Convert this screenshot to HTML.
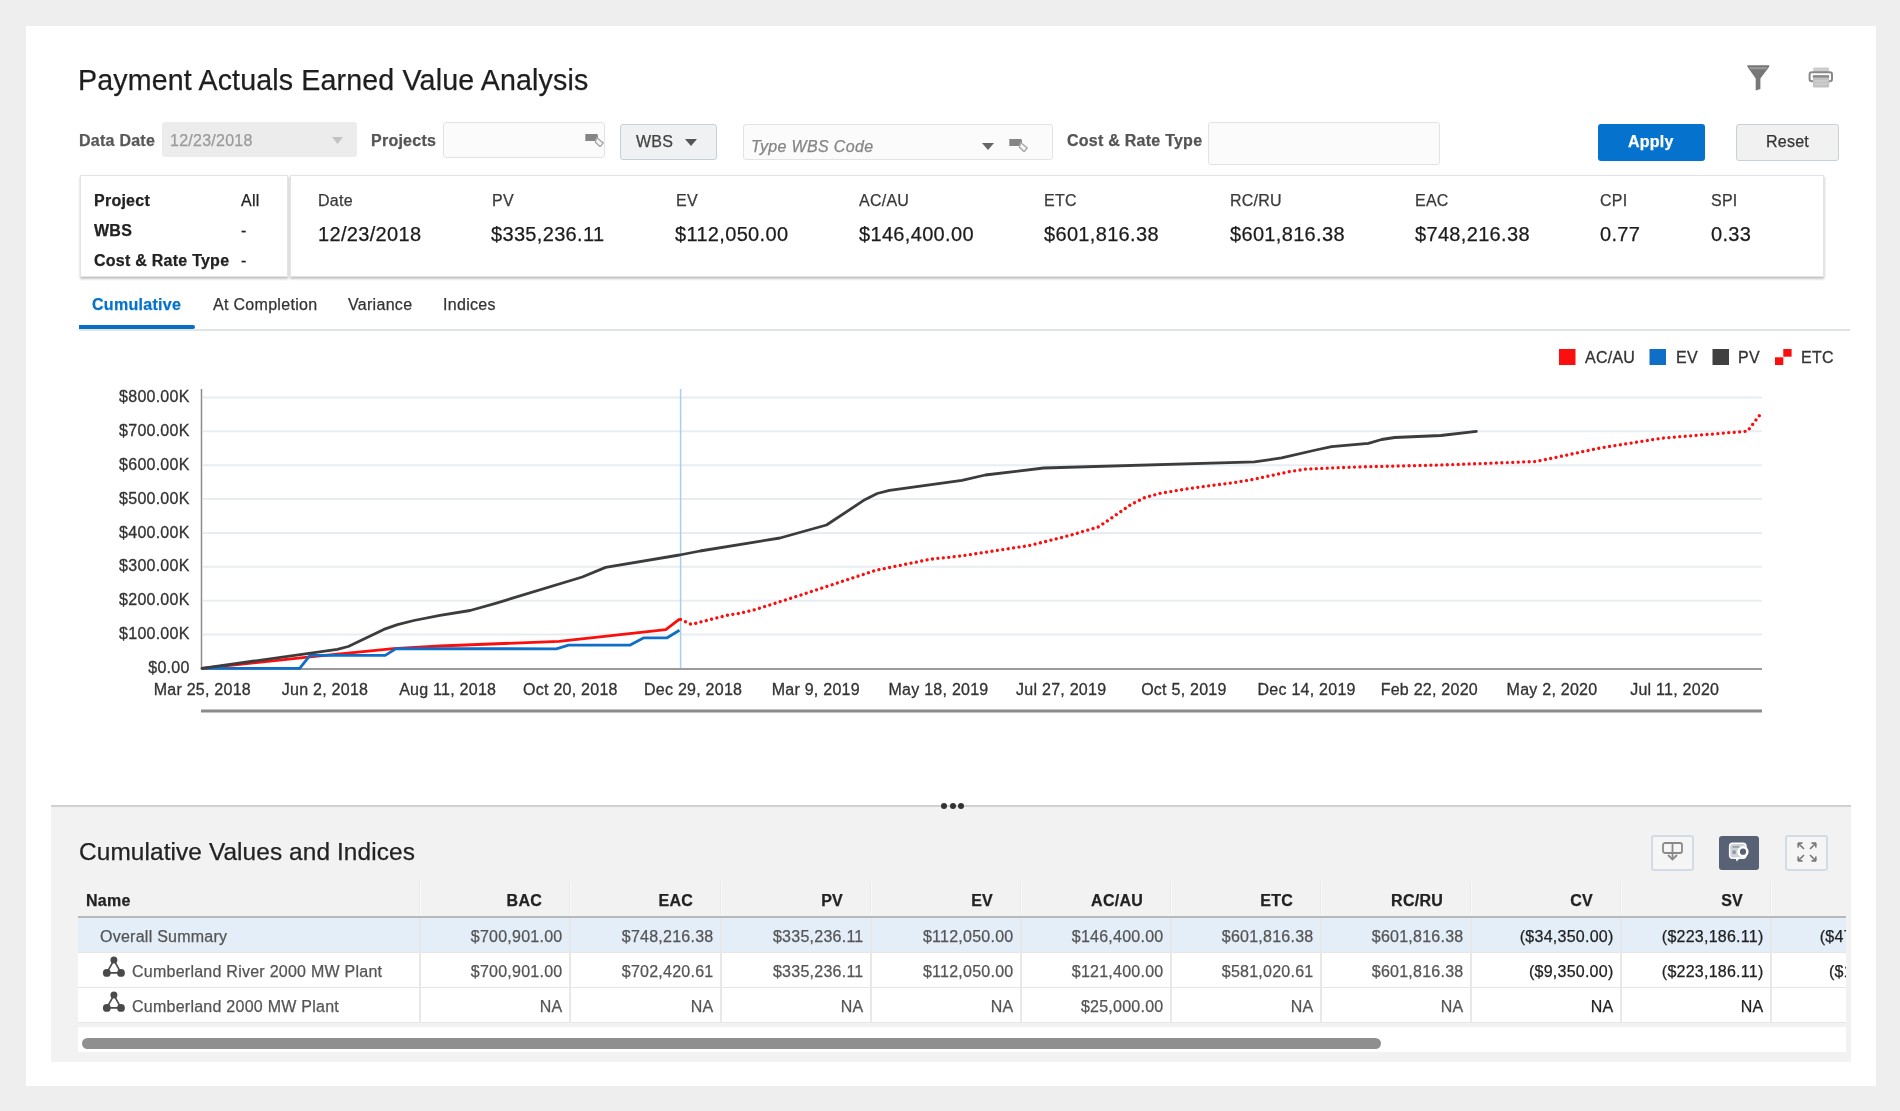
<!DOCTYPE html>
<html><head><meta charset="utf-8"><title>Payment Actuals Earned Value Analysis</title>
<style>
*{box-sizing:border-box;margin:0;padding:0}
html,body{width:1900px;height:1111px;overflow:hidden;background:#eeeeee;font-family:"Liberation Sans",Arial,Helvetica,sans-serif;color:#222}
#wrap div,#wrap text{-webkit-text-stroke:0.25px currentColor}
.a{position:absolute;white-space:nowrap}
.t16{font-size:16px;line-height:16px;letter-spacing:0.25px}
.b{font-weight:bold}
#card{position:absolute;left:26px;top:26px;width:1850px;height:1060px;background:#fff}
.inp{position:absolute;border:1px solid #e3e3e3;border-radius:3px;background:#fbfbfb}
.btn{position:absolute;border-radius:3px}
.sbox{position:absolute;background:#fff;border:1px solid #e4e4e4;box-shadow:0 2px 2px rgba(0,0,0,0.2),1px 1px 3px rgba(0,0,0,0.08)}
.lbl{color:#3a3a3a}
.val{font-size:20px;line-height:20px;color:#1c1c1c;letter-spacing:0.33px}
.tab{font-size:16px;line-height:16px;color:#333;letter-spacing:0.3px}
.th{font-weight:bold;font-size:16px;line-height:16px;color:#222;letter-spacing:0.25px}
.td{font-size:16px;line-height:16px;color:#555;letter-spacing:0.25px}
</style></head><body>
<div id="wrap" style="position:absolute;left:0;top:0;width:1900px;height:1111px;filter:opacity(1)">
<div id="card"></div>

<!-- title -->
<div class="a" style="left:78px;top:66px;font-size:28.6px;line-height:28px;color:#1e1e1e;letter-spacing:0.15px">Payment Actuals Earned Value Analysis</div>

<!-- filter & print icons -->
<svg class="a" style="left:1745px;top:63px" width="28" height="30" viewBox="0 0 28 30">
  <path d="M2.4 2.3 H24.2 V3.8 L15.4 15.5 V26 L10.7 27.6 V15.5 L2.4 3.8 Z" fill="#777"/>
  <path d="M4 4.3 H22.6 L21 6.2 H5.4 Z" fill="#9c9c9c"/>
</svg>
<svg class="a" style="left:1806px;top:64px" width="30" height="26" viewBox="0 0 30 26">
  <rect x="7.2" y="3.4" width="15.8" height="4.5" rx="1.2" fill="#cdcdcd"/>
  <rect x="3.6" y="8.2" width="22.4" height="9" rx="2.2" fill="#fff" stroke="#888" stroke-width="2"/>
  <rect x="6.9" y="11.2" width="16.2" height="12.4" rx="1.4" fill="#c2c2c2"/>
  <rect x="6.9" y="11.2" width="16.2" height="2.4" fill="#8a8a8a"/>
  <rect x="8.5" y="16.5" width="13" height="1" fill="#d8d8d8"/>
  <rect x="8.5" y="19.5" width="13" height="1" fill="#d8d8d8"/>
</svg>
<!-- filter bar -->
<div class="a t16 b" style="left:79px;top:133px;color:#585858">Data Date</div>
<div class="inp" style="left:162px;top:122px;width:195px;height:35px;background:#ececec;border-color:#ececec"></div>
<div class="a t16" style="left:170px;top:133px;color:#9a9a9a">12/23/2018</div>
<svg class="a" style="left:332px;top:137px" width="12" height="8"><path d="M0 0 H11 L5.5 7 Z" fill="#c2c2c2"/></svg>

<div class="a t16 b" style="left:371px;top:133px;color:#555">Projects</div>
<div class="inp" style="left:443px;top:122px;width:162px;height:36px"></div>
<svg class="a" style="left:584px;top:131px" width="20" height="16" viewBox="0 0 20 16"><path d="M1.3 3 H13 L14 4.3 V10 H1.3 Z" fill="#858585"/><path d="M12.6 6.6 L19.2 12 L16.2 15.8 L11.4 11.2 Z" fill="#f4f4f4" stroke="#a4a4a4" stroke-width="1.3"/></svg>

<div class="btn" style="left:620px;top:124px;width:97px;height:36px;background:#f0f1f2;border:1px solid #c6d0da"></div>
<div class="a t16" style="left:636px;top:134px;color:#444">WBS</div>
<svg class="a" style="left:685px;top:139px" width="12" height="8"><path d="M0 0 H12 L6 7 Z" fill="#555"/></svg>

<div class="inp" style="left:743px;top:124px;width:310px;height:36px"></div>
<div class="a t16" style="left:751px;top:139px;color:#858585;font-style:italic;letter-spacing:0.35px">Type WBS Code</div>
<svg class="a" style="left:982px;top:143px" width="12" height="8"><path d="M0 0 H12 L6 7 Z" fill="#666"/></svg>
<svg class="a" style="left:1008px;top:136px" width="20" height="16" viewBox="0 0 20 16"><path d="M1.3 3 H13 L14 4.3 V10 H1.3 Z" fill="#858585"/><path d="M12.6 6.6 L19.2 12 L16.2 15.8 L11.4 11.2 Z" fill="#f4f4f4" stroke="#a4a4a4" stroke-width="1.3"/></svg>

<div class="a t16 b" style="left:1067px;top:133px;color:#555">Cost &amp; Rate Type</div>
<div class="inp" style="left:1208px;top:122px;width:232px;height:43px"></div>

<div class="btn" style="left:1598px;top:124px;width:107px;height:37px;background:#0572ce"></div>
<div class="a t16 b" style="left:1628px;top:134px;color:#fff">Apply</div>
<div class="btn" style="left:1736px;top:124px;width:103px;height:37px;background:#f1f1f1;border:1px solid #c8d0d8"></div>
<div class="a t16" style="left:1766px;top:134px;color:#333">Reset</div>

<!-- summary boxes -->
<div class="sbox" style="left:80px;top:175px;width:208px;height:102px"></div>
<div class="sbox" style="left:290px;top:175px;width:1534px;height:102px"></div>
<div class="a t16 b" style="left:94px;top:193px;color:#222">Project</div>
<div class="a t16 b" style="left:94px;top:223px;color:#222">WBS</div>
<div class="a t16 b" style="left:94px;top:253px;color:#222">Cost &amp; Rate Type</div>
<div class="a t16" style="left:241px;top:193px;color:#222">All</div>
<div class="a t16" style="left:241px;top:223px;color:#222">-</div>
<div class="a t16" style="left:241px;top:253px;color:#222">-</div>

<div class="a t16 lbl" style="left:318px;top:193px">Date</div>
<div class="a val" style="left:318px;top:224px">12/23/2018</div>
<div class="a t16 lbl" style="left:492px;top:193px">PV</div>
<div class="a val" style="left:491px;top:224px">$335,236.11</div>
<div class="a t16 lbl" style="left:676px;top:193px">EV</div>
<div class="a val" style="left:675px;top:224px">$112,050.00</div>
<div class="a t16 lbl" style="left:859px;top:193px">AC/AU</div>
<div class="a val" style="left:859px;top:224px">$146,400.00</div>
<div class="a t16 lbl" style="left:1044px;top:193px">ETC</div>
<div class="a val" style="left:1044px;top:224px">$601,816.38</div>
<div class="a t16 lbl" style="left:1230px;top:193px">RC/RU</div>
<div class="a val" style="left:1230px;top:224px">$601,816.38</div>
<div class="a t16 lbl" style="left:1415px;top:193px">EAC</div>
<div class="a val" style="left:1415px;top:224px">$748,216.38</div>
<div class="a t16 lbl" style="left:1600px;top:193px">CPI</div>
<div class="a val" style="left:1600px;top:224px">0.77</div>
<div class="a t16 lbl" style="left:1711px;top:193px">SPI</div>
<div class="a val" style="left:1711px;top:224px">0.33</div>

<!-- tabs -->
<div class="a" style="left:79px;top:328.5px;width:1771px;height:2px;background:#e0e5e9"></div>
<div class="a" style="left:79px;top:324.5px;width:116px;height:4px;background:#0570c6;border-radius:0 2px 2px 0"></div>
<div class="a tab b" style="left:92px;top:297px;color:#0572ce">Cumulative</div>
<div class="a tab" style="left:213px;top:297px">At Completion</div>
<div class="a tab" style="left:348px;top:297px">Variance</div>
<div class="a tab" style="left:443px;top:297px">Indices</div>

<!-- CHART -->
<svg class="a" style="left:0;top:0" width="1900" height="760" viewBox="0 0 1900 760">
<line x1="203" y1="397.4" x2="1762" y2="397.4" stroke="#e8edf2" stroke-width="2"/>
<line x1="203" y1="431.3" x2="1762" y2="431.3" stroke="#e8edf2" stroke-width="2"/>
<line x1="203" y1="465.2" x2="1762" y2="465.2" stroke="#e8edf2" stroke-width="2"/>
<line x1="203" y1="499.0" x2="1762" y2="499.0" stroke="#e8edf2" stroke-width="2"/>
<line x1="203" y1="532.9" x2="1762" y2="532.9" stroke="#e8edf2" stroke-width="2"/>
<line x1="203" y1="566.8" x2="1762" y2="566.8" stroke="#e8edf2" stroke-width="2"/>
<line x1="203" y1="600.7" x2="1762" y2="600.7" stroke="#e8edf2" stroke-width="2"/>
<line x1="203" y1="634.5" x2="1762" y2="634.5" stroke="#e8edf2" stroke-width="2"/>
<text x="189.6" y="402.0" text-anchor="end" font-size="16" fill="#333" stroke="#333" stroke-width="0.3" letter-spacing="0.25">$800.00K</text>
<text x="189.6" y="435.9" text-anchor="end" font-size="16" fill="#333" stroke="#333" stroke-width="0.3" letter-spacing="0.25">$700.00K</text>
<text x="189.6" y="469.8" text-anchor="end" font-size="16" fill="#333" stroke="#333" stroke-width="0.3" letter-spacing="0.25">$600.00K</text>
<text x="189.6" y="503.6" text-anchor="end" font-size="16" fill="#333" stroke="#333" stroke-width="0.3" letter-spacing="0.25">$500.00K</text>
<text x="189.6" y="537.5" text-anchor="end" font-size="16" fill="#333" stroke="#333" stroke-width="0.3" letter-spacing="0.25">$400.00K</text>
<text x="189.6" y="571.4" text-anchor="end" font-size="16" fill="#333" stroke="#333" stroke-width="0.3" letter-spacing="0.25">$300.00K</text>
<text x="189.6" y="605.3" text-anchor="end" font-size="16" fill="#333" stroke="#333" stroke-width="0.3" letter-spacing="0.25">$200.00K</text>
<text x="189.6" y="639.1" text-anchor="end" font-size="16" fill="#333" stroke="#333" stroke-width="0.3" letter-spacing="0.25">$100.00K</text>
<text x="189.6" y="673.0" text-anchor="end" font-size="16" fill="#333" stroke="#333" stroke-width="0.3" letter-spacing="0.25">$0.00</text>
<text x="202.3" y="694.5" text-anchor="middle" font-size="16" fill="#333" stroke="#333" stroke-width="0.3" letter-spacing="0.25">Mar 25, 2018</text>
<text x="325.0" y="694.5" text-anchor="middle" font-size="16" fill="#333" stroke="#333" stroke-width="0.3" letter-spacing="0.25">Jun 2, 2018</text>
<text x="447.7" y="694.5" text-anchor="middle" font-size="16" fill="#333" stroke="#333" stroke-width="0.3" letter-spacing="0.25">Aug 11, 2018</text>
<text x="570.4" y="694.5" text-anchor="middle" font-size="16" fill="#333" stroke="#333" stroke-width="0.3" letter-spacing="0.25">Oct 20, 2018</text>
<text x="693.1" y="694.5" text-anchor="middle" font-size="16" fill="#333" stroke="#333" stroke-width="0.3" letter-spacing="0.25">Dec 29, 2018</text>
<text x="815.8" y="694.5" text-anchor="middle" font-size="16" fill="#333" stroke="#333" stroke-width="0.3" letter-spacing="0.25">Mar 9, 2019</text>
<text x="938.5" y="694.5" text-anchor="middle" font-size="16" fill="#333" stroke="#333" stroke-width="0.3" letter-spacing="0.25">May 18, 2019</text>
<text x="1061.2" y="694.5" text-anchor="middle" font-size="16" fill="#333" stroke="#333" stroke-width="0.3" letter-spacing="0.25">Jul 27, 2019</text>
<text x="1183.9" y="694.5" text-anchor="middle" font-size="16" fill="#333" stroke="#333" stroke-width="0.3" letter-spacing="0.25">Oct 5, 2019</text>
<text x="1306.6" y="694.5" text-anchor="middle" font-size="16" fill="#333" stroke="#333" stroke-width="0.3" letter-spacing="0.25">Dec 14, 2019</text>
<text x="1429.3" y="694.5" text-anchor="middle" font-size="16" fill="#333" stroke="#333" stroke-width="0.3" letter-spacing="0.25">Feb 22, 2020</text>
<text x="1552.0" y="694.5" text-anchor="middle" font-size="16" fill="#333" stroke="#333" stroke-width="0.3" letter-spacing="0.25">May 2, 2020</text>
<text x="1674.7" y="694.5" text-anchor="middle" font-size="16" fill="#333" stroke="#333" stroke-width="0.3" letter-spacing="0.25">Jul 11, 2020</text>
<line x1="201.5" y1="389" x2="201.5" y2="669.5" stroke="#8c8c8c" stroke-width="1.5"/>
<line x1="201" y1="669" x2="1762" y2="669" stroke="#9a9a9a" stroke-width="2"/>
<line x1="680.6" y1="389" x2="680.6" y2="668" stroke="#a6d0ea" stroke-width="1.5"/>
<polyline points="202.0,668.4 310.0,656.8 393.4,648.6 440.0,646.0 559.0,641.3 665.8,629.6 679.5,619.1" fill="none" stroke="#fb0e0e" stroke-width="2.8" stroke-linejoin="round"/>
<polyline points="202.0,668.4 299.7,668.4 310.0,655.4 385.2,655.4 396.1,648.6 556.3,648.8 568.6,645.1 630.2,645.1 643.9,637.8 667.2,637.8 679.5,630.3" fill="none" stroke="#0f6fc6" stroke-width="2.8" stroke-linejoin="round"/>
<polyline points="202.0,668.4 337.3,649.3 348.3,646.5 383.8,629.4 397.5,624.6 413.9,620.5 440.0,615.3 470.1,610.5 494.7,603.6 582.3,577.0 605.6,567.4 679.5,555.0 700.0,551.0 780.0,538.0 826.5,525.0 864.8,499.7 877.2,493.5 889.5,490.4 962.0,480.3 985.3,475.0 1043.7,468.0 1254.4,461.9 1281.6,457.9 1315.8,450.0 1331.6,446.7 1368.4,443.4 1381.6,439.5 1394.7,437.5 1440.8,435.5 1476.3,431.3" fill="none" stroke="#3c3c3c" stroke-width="2.8" stroke-linejoin="round" stroke-linecap="round"/>
<polyline points="680.5,619.5 691.4,624.4 707.2,620.3 728.3,615.0 739.1,613.4 755.2,609.6 776.0,603.0 796.9,596.3 876.2,570.2 930.5,559.2 961.0,556.0 1030.0,545.4 1071.0,535.1 1098.4,526.9 1106.6,521.4 1131.3,504.3 1145.0,497.5 1160.0,493.4 1188.7,488.6 1235.3,482.4 1251.7,479.7 1290.0,471.5 1306.8,469.0 1355.8,467.0 1440.0,465.0 1535.3,461.5 1551.6,458.3 1600.5,447.9 1662.5,438.1 1747.4,431.2 1760.4,414.3" fill="none" stroke="#fb0e0e" stroke-width="3.3" stroke-dasharray="0.01 5.45" stroke-linecap="round"/>
<line x1="201" y1="711" x2="1762" y2="711" stroke="#8a8a8a" stroke-width="3"/>
<rect x="1559" y="349" width="16.5" height="16" fill="#fb0e0e"/>
<text x="1585" y="363" font-size="16" fill="#333" stroke="#333" stroke-width="0.3" letter-spacing="0.25">AC/AU</text>
<rect x="1649.5" y="349" width="16.5" height="16" fill="#0f6fc6"/>
<text x="1676" y="363" font-size="16" fill="#333" stroke="#333" stroke-width="0.3" letter-spacing="0.25">EV</text>
<rect x="1712.5" y="349" width="16.5" height="16" fill="#404040"/>
<text x="1738" y="363" font-size="16" fill="#333" stroke="#333" stroke-width="0.3" letter-spacing="0.25">PV</text>
<rect x="1775" y="357.3" width="8.3" height="7.7" fill="#fb0e0e"/>
<rect x="1783.3" y="349" width="8.3" height="7.7" fill="#fb0e0e"/>
<text x="1801" y="363" font-size="16" fill="#333" stroke="#333" stroke-width="0.3" letter-spacing="0.25">ETC</text>
</svg>

<!-- lower panel -->
<div class="a" style="left:51px;top:805px;width:1800px;height:257px;background:#f2f2f2;border-top:2px solid #d0d0d0"></div>
<div class="a" style="left:941px;top:803px;width:6px;height:6px;border-radius:50%;background:#333"></div>
<div class="a" style="left:950px;top:803px;width:6px;height:6px;border-radius:50%;background:#333"></div>
<div class="a" style="left:958px;top:803px;width:6px;height:6px;border-radius:50%;background:#333"></div>

<div class="a" style="left:79px;top:840px;font-size:24.4px;line-height:24px;color:#222;letter-spacing:0.1px">Cumulative Values and Indices</div>

<div class="a" style="left:78px;top:880px;width:1768px;height:172px;overflow:hidden">
<div class="a th" style="left:8px;top:13.200000000000045px">Name</div>
<div class="a th" style="left:341px;width:123px;top:13.200000000000045px;text-align:right">BAC</div>
<div class="a th" style="left:491px;width:124px;top:13.200000000000045px;text-align:right">EAC</div>
<div class="a th" style="left:642px;width:123px;top:13.200000000000045px;text-align:right">PV</div>
<div class="a th" style="left:792px;width:123px;top:13.200000000000045px;text-align:right">EV</div>
<div class="a th" style="left:942px;width:123px;top:13.200000000000045px;text-align:right">AC/AU</div>
<div class="a th" style="left:1092px;width:123px;top:13.200000000000045px;text-align:right">ETC</div>
<div class="a th" style="left:1242px;width:123px;top:13.200000000000045px;text-align:right">RC/RU</div>
<div class="a th" style="left:1392px;width:123px;top:13.200000000000045px;text-align:right">CV</div>
<div class="a th" style="left:1542px;width:123px;top:13.200000000000045px;text-align:right">SV</div>
<div class="a" style="left:341px;top:1px;width:2px;height:34px;background:#fafafa;border-left:1px solid #e9e9e9"></div>
<div class="a" style="left:491px;top:1px;width:2px;height:34px;background:#fafafa;border-left:1px solid #e9e9e9"></div>
<div class="a" style="left:642px;top:1px;width:2px;height:34px;background:#fafafa;border-left:1px solid #e9e9e9"></div>
<div class="a" style="left:792px;top:1px;width:2px;height:34px;background:#fafafa;border-left:1px solid #e9e9e9"></div>
<div class="a" style="left:942px;top:1px;width:2px;height:34px;background:#fafafa;border-left:1px solid #e9e9e9"></div>
<div class="a" style="left:1092px;top:1px;width:2px;height:34px;background:#fafafa;border-left:1px solid #e9e9e9"></div>
<div class="a" style="left:1242px;top:1px;width:2px;height:34px;background:#fafafa;border-left:1px solid #e9e9e9"></div>
<div class="a" style="left:1392px;top:1px;width:2px;height:34px;background:#fafafa;border-left:1px solid #e9e9e9"></div>
<div class="a" style="left:1542px;top:1px;width:2px;height:34px;background:#fafafa;border-left:1px solid #e9e9e9"></div>
<div class="a" style="left:1692px;top:1px;width:2px;height:34px;background:#fafafa;border-left:1px solid #e9e9e9"></div>
<div class="a" style="left:0;top:36px;width:1768px;height:2px;background:#b9b9b9"></div>
<div class="a" style="left:0;top:38px;width:1768px;height:35px;background:#e4eef8;border-bottom:1px solid #e6e6e6"></div>
<div class="a td" style="left:22px;top:48.7px;color:#555">Overall Summary</div>
<div class="a td" style="left:341px;width:143.5px;top:48.7px;text-align:right;color:#555">$700,901.00</div>
<div class="a td" style="left:491px;width:144.5px;top:48.7px;text-align:right;color:#555">$748,216.38</div>
<div class="a td" style="left:642px;width:143.5px;top:48.7px;text-align:right;color:#555">$335,236.11</div>
<div class="a td" style="left:792px;width:143.5px;top:48.7px;text-align:right;color:#555">$112,050.00</div>
<div class="a td" style="left:942px;width:143.5px;top:48.7px;text-align:right;color:#555">$146,400.00</div>
<div class="a td" style="left:1092px;width:143.5px;top:48.7px;text-align:right;color:#555">$601,816.38</div>
<div class="a td" style="left:1242px;width:143.5px;top:48.7px;text-align:right;color:#555">$601,816.38</div>
<div class="a td" style="left:1392px;width:143.5px;top:48.7px;text-align:right;color:#222">($34,350.00)</div>
<div class="a td" style="left:1542px;width:143.5px;top:48.7px;text-align:right;color:#222">($223,186.11)</div>
<div class="a td" style="left:1692px;width:143.5px;top:48.7px;text-align:right;color:#222">($47,315.38)</div>
<div class="a" style="left:341px;top:38px;width:1.5px;height:35px;background:#e8e8e8"></div>
<div class="a" style="left:491px;top:38px;width:1.5px;height:35px;background:#e8e8e8"></div>
<div class="a" style="left:642px;top:38px;width:1.5px;height:35px;background:#e8e8e8"></div>
<div class="a" style="left:792px;top:38px;width:1.5px;height:35px;background:#e8e8e8"></div>
<div class="a" style="left:942px;top:38px;width:1.5px;height:35px;background:#e8e8e8"></div>
<div class="a" style="left:1092px;top:38px;width:1.5px;height:35px;background:#e8e8e8"></div>
<div class="a" style="left:1242px;top:38px;width:1.5px;height:35px;background:#e8e8e8"></div>
<div class="a" style="left:1392px;top:38px;width:1.5px;height:35px;background:#e8e8e8"></div>
<div class="a" style="left:1542px;top:38px;width:1.5px;height:35px;background:#e8e8e8"></div>
<div class="a" style="left:1692px;top:38px;width:1.5px;height:35px;background:#e8e8e8"></div>
<div class="a" style="left:0;top:73px;width:1768px;height:35px;background:#fff;border-bottom:1px solid #e6e6e6"></div>
<div class="a td" style="left:54px;top:83.7px;color:#555">Cumberland River 2000 MW Plant</div>
<div class="a td" style="left:341px;width:143.5px;top:83.7px;text-align:right;color:#555">$700,901.00</div>
<div class="a td" style="left:491px;width:144.5px;top:83.7px;text-align:right;color:#555">$702,420.61</div>
<div class="a td" style="left:642px;width:143.5px;top:83.7px;text-align:right;color:#555">$335,236.11</div>
<div class="a td" style="left:792px;width:143.5px;top:83.7px;text-align:right;color:#555">$112,050.00</div>
<div class="a td" style="left:942px;width:143.5px;top:83.7px;text-align:right;color:#555">$121,400.00</div>
<div class="a td" style="left:1092px;width:143.5px;top:83.7px;text-align:right;color:#555">$581,020.61</div>
<div class="a td" style="left:1242px;width:143.5px;top:83.7px;text-align:right;color:#555">$601,816.38</div>
<div class="a td" style="left:1392px;width:143.5px;top:83.7px;text-align:right;color:#222">($9,350.00)</div>
<div class="a td" style="left:1542px;width:143.5px;top:83.7px;text-align:right;color:#222">($223,186.11)</div>
<div class="a td" style="left:1692px;width:143.5px;top:83.7px;text-align:right;color:#222">($1,519.61)</div>
<div class="a" style="left:341px;top:73px;width:1.5px;height:35px;background:#e8e8e8"></div>
<div class="a" style="left:491px;top:73px;width:1.5px;height:35px;background:#e8e8e8"></div>
<div class="a" style="left:642px;top:73px;width:1.5px;height:35px;background:#e8e8e8"></div>
<div class="a" style="left:792px;top:73px;width:1.5px;height:35px;background:#e8e8e8"></div>
<div class="a" style="left:942px;top:73px;width:1.5px;height:35px;background:#e8e8e8"></div>
<div class="a" style="left:1092px;top:73px;width:1.5px;height:35px;background:#e8e8e8"></div>
<div class="a" style="left:1242px;top:73px;width:1.5px;height:35px;background:#e8e8e8"></div>
<div class="a" style="left:1392px;top:73px;width:1.5px;height:35px;background:#e8e8e8"></div>
<div class="a" style="left:1542px;top:73px;width:1.5px;height:35px;background:#e8e8e8"></div>
<div class="a" style="left:1692px;top:73px;width:1.5px;height:35px;background:#e8e8e8"></div>
<div class="a" style="left:0;top:108px;width:1768px;height:35px;background:#fff;border-bottom:1px solid #e6e6e6"></div>
<div class="a td" style="left:54px;top:118.7px;color:#555">Cumberland 2000 MW Plant</div>
<div class="a td" style="left:341px;width:143.5px;top:118.7px;text-align:right;color:#555">NA</div>
<div class="a td" style="left:491px;width:144.5px;top:118.7px;text-align:right;color:#555">NA</div>
<div class="a td" style="left:642px;width:143.5px;top:118.7px;text-align:right;color:#555">NA</div>
<div class="a td" style="left:792px;width:143.5px;top:118.7px;text-align:right;color:#555">NA</div>
<div class="a td" style="left:942px;width:143.5px;top:118.7px;text-align:right;color:#555">$25,000.00</div>
<div class="a td" style="left:1092px;width:143.5px;top:118.7px;text-align:right;color:#555">NA</div>
<div class="a td" style="left:1242px;width:143.5px;top:118.7px;text-align:right;color:#555">NA</div>
<div class="a td" style="left:1392px;width:143.5px;top:118.7px;text-align:right;color:#222">NA</div>
<div class="a td" style="left:1542px;width:143.5px;top:118.7px;text-align:right;color:#222">NA</div>
<div class="a" style="left:341px;top:108px;width:1.5px;height:35px;background:#e8e8e8"></div>
<div class="a" style="left:491px;top:108px;width:1.5px;height:35px;background:#e8e8e8"></div>
<div class="a" style="left:642px;top:108px;width:1.5px;height:35px;background:#e8e8e8"></div>
<div class="a" style="left:792px;top:108px;width:1.5px;height:35px;background:#e8e8e8"></div>
<div class="a" style="left:942px;top:108px;width:1.5px;height:35px;background:#e8e8e8"></div>
<div class="a" style="left:1092px;top:108px;width:1.5px;height:35px;background:#e8e8e8"></div>
<div class="a" style="left:1242px;top:108px;width:1.5px;height:35px;background:#e8e8e8"></div>
<div class="a" style="left:1392px;top:108px;width:1.5px;height:35px;background:#e8e8e8"></div>
<div class="a" style="left:1542px;top:108px;width:1.5px;height:35px;background:#e8e8e8"></div>
<div class="a" style="left:1692px;top:108px;width:1.5px;height:35px;background:#e8e8e8"></div>
<svg class="a" style="left:22px;top:73px" width="28" height="26" viewBox="0 0 28 26"><path d="M13.9 7.1 L6.8 19.9 M13.9 7.1 L21 19.9 M6.8 19.9 H21" stroke="#4a4a4a" stroke-width="1.7" fill="none"/><circle cx="13.9" cy="7.1" r="3.5" fill="#4a4a4a"/><circle cx="6.8" cy="19.9" r="3.9" fill="#4a4a4a"/><circle cx="21" cy="19.9" r="3.9" fill="#4a4a4a"/></svg>
<svg class="a" style="left:22px;top:108px" width="28" height="26" viewBox="0 0 28 26"><path d="M13.9 7.1 L6.8 19.9 M13.9 7.1 L21 19.9 M6.8 19.9 H21" stroke="#4a4a4a" stroke-width="1.7" fill="none"/><circle cx="13.9" cy="7.1" r="3.5" fill="#4a4a4a"/><circle cx="6.8" cy="19.9" r="3.9" fill="#4a4a4a"/><circle cx="21" cy="19.9" r="3.9" fill="#4a4a4a"/></svg>
<div class="a" style="left:0;top:147px;width:1768px;height:25px;background:#fff"></div>
<div class="a" style="left:4px;top:158px;width:1299px;height:11px;border-radius:6px;background:#8f8f8f"></div>
</div>
<div class="btn" style="left:1651px;top:835px;width:43px;height:36px;border:2px solid #d3dce5;background:#f5f5f5"></div>
<div class="btn" style="left:1719px;top:836px;width:40px;height:34px;background:#586274"></div>
<div class="btn" style="left:1785px;top:835px;width:43px;height:36px;border:2px solid #d3dce5;background:#f5f5f5"></div>
<svg class="a" style="left:1661px;top:841px" width="24" height="24" viewBox="0 0 24 24"><rect x="2" y="2" width="19" height="10" rx="2" fill="none" stroke="#8a8a8a" stroke-width="1.8"/><line x1="11.5" y1="2" x2="11.5" y2="18" stroke="#8a8a8a" stroke-width="1.8"/><path d="M7 14 L11.5 18.5 L16 14" fill="none" stroke="#8a8a8a" stroke-width="1.8"/></svg>
<svg class="a" style="left:1719px;top:836px" width="41" height="35" viewBox="0 0 41 35"><rect x="10.6" y="7.2" width="16.4" height="15" rx="3" fill="#cfd3d9" stroke="#fff" stroke-width="1.4"/><path d="M16.5 21.5 L21.5 21.5 L17.6 25.6 Z" fill="#fff"/><circle cx="24" cy="15.7" r="5.6" fill="#fff"/><circle cx="24" cy="15.7" r="3.1" fill="#596275"/><rect x="13.5" y="10.2" width="7" height="1.4" fill="#8d939d"/><rect x="13.5" y="14.5" width="3.2" height="3.4" fill="#8d939d"/></svg>
<svg class="a" style="left:1795px;top:841px" width="24" height="22" viewBox="0 0 24 22" stroke="#7a7a7a" stroke-width="1.7" fill="none"><path d="M3.5 2.5 L9 8 M3 2.2 H7.5 M3.2 2 V6.5"/><path d="M20.5 2.5 L15 8 M21 2.2 H16.5 M20.8 2 V6.5"/><path d="M3.5 19.5 L9 14 M3 19.8 H7.5 M3.2 20 V15.5"/><path d="M20.5 19.5 L15 14 M21 19.8 H16.5 M20.8 20 V15.5"/></svg>

</div>
</body></html>
